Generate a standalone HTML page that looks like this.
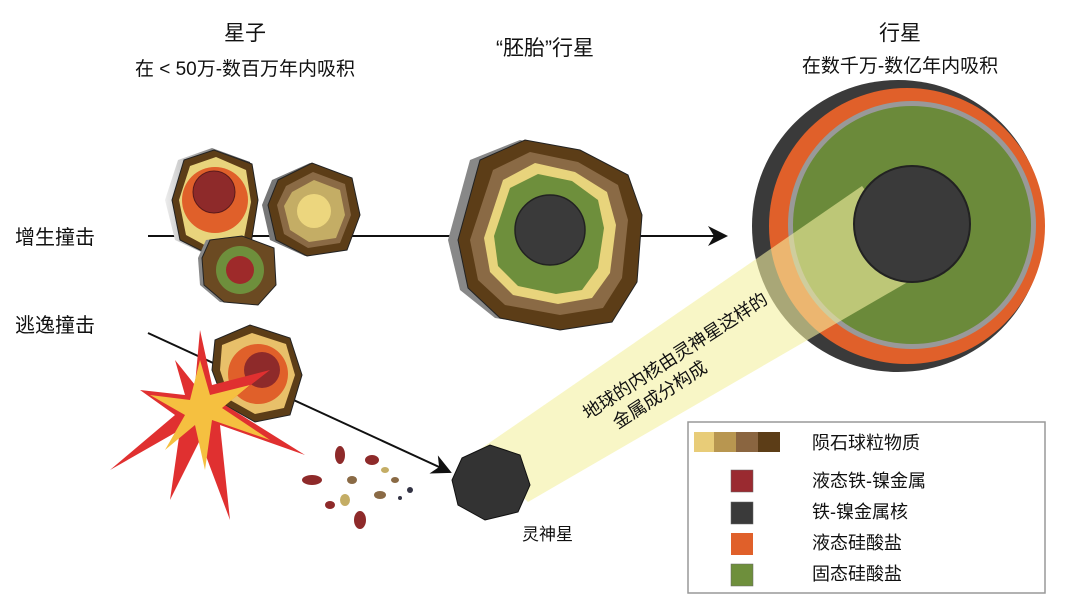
<!DOCTYPE html>
<html><head><meta charset="utf-8"><style>
html,body{margin:0;padding:0;background:#fff;}
svg{display:block;}
text{font-family:"Liberation Sans","Noto Sans CJK SC",sans-serif;fill:#111;}
</style></head><body>
<svg width="1080" height="603" viewBox="0 0 1080 603" xmlns="http://www.w3.org/2000/svg">
<defs>
<linearGradient id="gr" x1="0" x2="1"><stop offset="0" stop-color="#eee"/><stop offset="0.5" stop-color="#888"/><stop offset="1" stop-color="#333"/></linearGradient>
<marker id="ar" viewBox="0 0 10 10" refX="9" refY="5" markerWidth="26" markerHeight="20" orient="auto" markerUnits="userSpaceOnUse"><path d="M0,0 L10,5 L0,10 L3,5z" fill="#111"/></marker>
</defs>
<!-- titles -->
<text x="245" y="40" font-size="21" text-anchor="middle">星子</text>
<text x="245" y="75" font-size="19" text-anchor="middle">在 &lt; 50万-数百万年内吸积</text>
<text x="545" y="55" font-size="21" text-anchor="middle">“胚胎”行星</text>
<text x="900" y="40" font-size="21" text-anchor="middle">行星</text>
<text x="900" y="72" font-size="19" text-anchor="middle">在数千万-数亿年内吸积</text>
<text x="15" y="244" font-size="20">增生撞击</text>
<text x="15" y="332" font-size="20">逃逸撞击</text>

<!-- planet -->
<circle cx="898" cy="226" r="146" fill="#3a3a3a"/>
<circle cx="907" cy="226" r="138" fill="#e0602a"/>
<circle cx="912" cy="225" r="124" fill="#999"/>
<circle cx="912" cy="225" r="119" fill="#6b8a3a"/>

<!-- beam -->
<polygon points="476,452 528,502 925,272 862,186" fill="#f3f0a0" opacity="0.6"/>
<circle cx="912" cy="224" r="58" fill="#3a3a3a" stroke="#222" stroke-width="2"/>
<text transform="translate(588,420) rotate(-33)" font-size="18" text-anchor="start"><tspan x="0" y="0">地球的内核由灵神星这样的</tspan><tspan x="20" y="24">金属成分构成</tspan></text>

<!-- lines -->
<line x1="148" y1="236" x2="726" y2="236" stroke="#111" stroke-width="2" marker-end="url(#ar)"/>
<line x1="148" y1="333" x2="450" y2="472" stroke="#111" stroke-width="2" marker-end="url(#ar)"/>

<!-- embryo -->
<path d="M470,160 L520,140 L575,150 L625,175 L640,215 L635,280 L610,320 L560,328 L495,318 L460,290 L448,240 Z" fill="#888"/>
<path d="M480,160 L525,140 L580,150 L628,175 L642,215 L637,282 L612,322 L560,330 L500,318 L468,288 L458,240 Z" fill="#5c3d17" stroke="#222"/>
<path d="M493,170 L530,152 L578,162 L618,185 L628,220 L622,278 L603,308 L560,315 L505,305 L478,280 L470,240 Z" fill="#8a6a45"/>
<path d="M503,180 L535,163 L575,172 L607,192 L616,225 L610,273 L592,298 L558,304 L513,295 L490,272 L484,238 Z" fill="#e8d47c"/>
<path d="M510,188 L538,174 L572,181 L598,200 L604,228 L598,268 L582,290 L556,294 L518,286 L498,266 L494,236 Z" fill="#6e8f3c"/>
<circle cx="550" cy="230" r="35" fill="#3a3a3a" stroke="#222" stroke-width="1.5"/>

<!-- planetesimal A -->
<path d="M178,160 L212,148 L250,162 L258,200 L248,250 L210,256 L175,240 L165,200 Z" fill="url(#gr)"/>
<path d="M184,160 L214,150 L252,164 L258,200 L250,250 L212,256 L180,240 L172,200 Z" fill="#5c3d17" stroke="#222"/>
<path d="M190,166 L216,157 L246,170 L251,202 L243,243 L212,249 L186,235 L179,200 Z" fill="#e8d47c"/>
<circle cx="215" cy="200" r="33" fill="#e0602a"/>
<circle cx="214" cy="192" r="21" fill="#8e2a2a" stroke="#5a1a1a"/>
<!-- B -->
<path d="M272,180 L310,163 L350,178 L358,215 L345,250 L305,256 L270,240 L262,205 Z" fill="#777"/>
<path d="M278,180 L312,163 L352,178 L360,215 L347,250 L307,256 L276,240 L268,205 Z" fill="#5c3d17" stroke="#222"/>
<path d="M286,186 L313,172 L345,184 L351,215 L340,243 L308,248 L284,234 L277,205 Z" fill="#8a6a45"/>
<path d="M292,192 L314,180 L340,190 L345,215 L336,238 L309,242 L290,230 L284,206 Z" fill="#c4ad65"/>
<circle cx="314" cy="211" r="17" fill="#ecd67e"/>
<!-- C -->
<path d="M206,240 L240,236 L272,248 L274,285 L256,305 L220,302 L200,285 L198,258 Z" fill="#888"/>
<path d="M210,240 L242,236 L274,248 L276,285 L258,305 L224,302 L204,285 L202,258 Z" fill="#6b4a22" stroke="#222"/>
<circle cx="240" cy="270" r="24" fill="#6e8f3c"/>
<circle cx="240" cy="270" r="14" fill="#9e2a2a"/>

<!-- escape body -->
<path d="M215,340 L250,325 L290,338 L302,375 L290,415 L255,422 L225,405 L212,370 Z" fill="#5c3d17" stroke="#222"/>
<path d="M222,345 L252,333 L286,344 L295,375 L284,408 L255,414 L230,400 L220,370 Z" fill="#e8c06a"/>
<circle cx="258" cy="374" r="30" fill="#e0602a"/>
<circle cx="262" cy="370" r="18" fill="#8e2a2a"/>
<!-- explosion -->
<polygon points="200,330 212,385 270,370 225,405 305,455 220,425 230,520 200,440 170,500 180,430 110,470 175,415 140,390 185,395 175,360 195,385" fill="#e03030"/>
<polygon points="200,360 210,395 250,385 222,408 270,440 212,420 205,470 195,425 165,450 185,415 150,395 190,400" fill="#f5c040"/>
<!-- fragments -->
<g fill="#8e2a2a"><ellipse cx="312" cy="480" rx="10" ry="5"/><ellipse cx="340" cy="455" rx="5" ry="9"/><ellipse cx="360" cy="520" rx="6" ry="9"/><ellipse cx="372" cy="460" rx="7" ry="5"/><ellipse cx="330" cy="505" rx="5" ry="4"/></g>
<g fill="#8a6a45"><ellipse cx="352" cy="480" rx="5" ry="4"/><ellipse cx="380" cy="495" rx="6" ry="4"/><ellipse cx="395" cy="480" rx="4" ry="3"/></g>
<g fill="#c4ad65"><ellipse cx="345" cy="500" rx="5" ry="6"/><ellipse cx="385" cy="470" rx="4" ry="3"/></g>
<g fill="#334"><circle cx="410" cy="490" r="3"/><circle cx="400" cy="498" r="2"/></g>

<!-- Psyche -->
<path d="M462,458 L490,445 L520,455 L530,485 L518,512 L485,520 L458,505 L452,480 Z" fill="#333" stroke="#111"/>
<text x="522" y="540" font-size="17">灵神星</text>

<!-- legend -->
<rect x="688" y="422" width="357" height="171" fill="#fff" stroke="#999" stroke-width="1.5"/>
<rect x="694" y="432" width="20" height="20" fill="#e8cc78"/>
<rect x="714" y="432" width="22" height="20" fill="#b89650"/>
<rect x="736" y="432" width="22" height="20" fill="#8a6540"/>
<rect x="758" y="432" width="22" height="20" fill="#5c3d17"/>
<rect x="731" y="470" width="22" height="22" fill="#9a2a30" stroke="#666" stroke-width="0.5"/>
<rect x="731" y="502" width="22" height="22" fill="#3a3a3a" stroke="#666" stroke-width="0.5"/>
<rect x="731" y="533" width="22" height="22" fill="#e0602a"/>
<rect x="731" y="564" width="22" height="22" fill="#6e8f3c" stroke="#666" stroke-width="0.5"/>
<g font-size="18"><text x="812" y="449">陨石球粒物质</text><text x="812" y="487">液态铁-镍金属</text><text x="812" y="518">铁-镍金属核</text><text x="812" y="549">液态硅酸盐</text><text x="812" y="580">固态硅酸盐</text></g>
</svg>
</body></html>
